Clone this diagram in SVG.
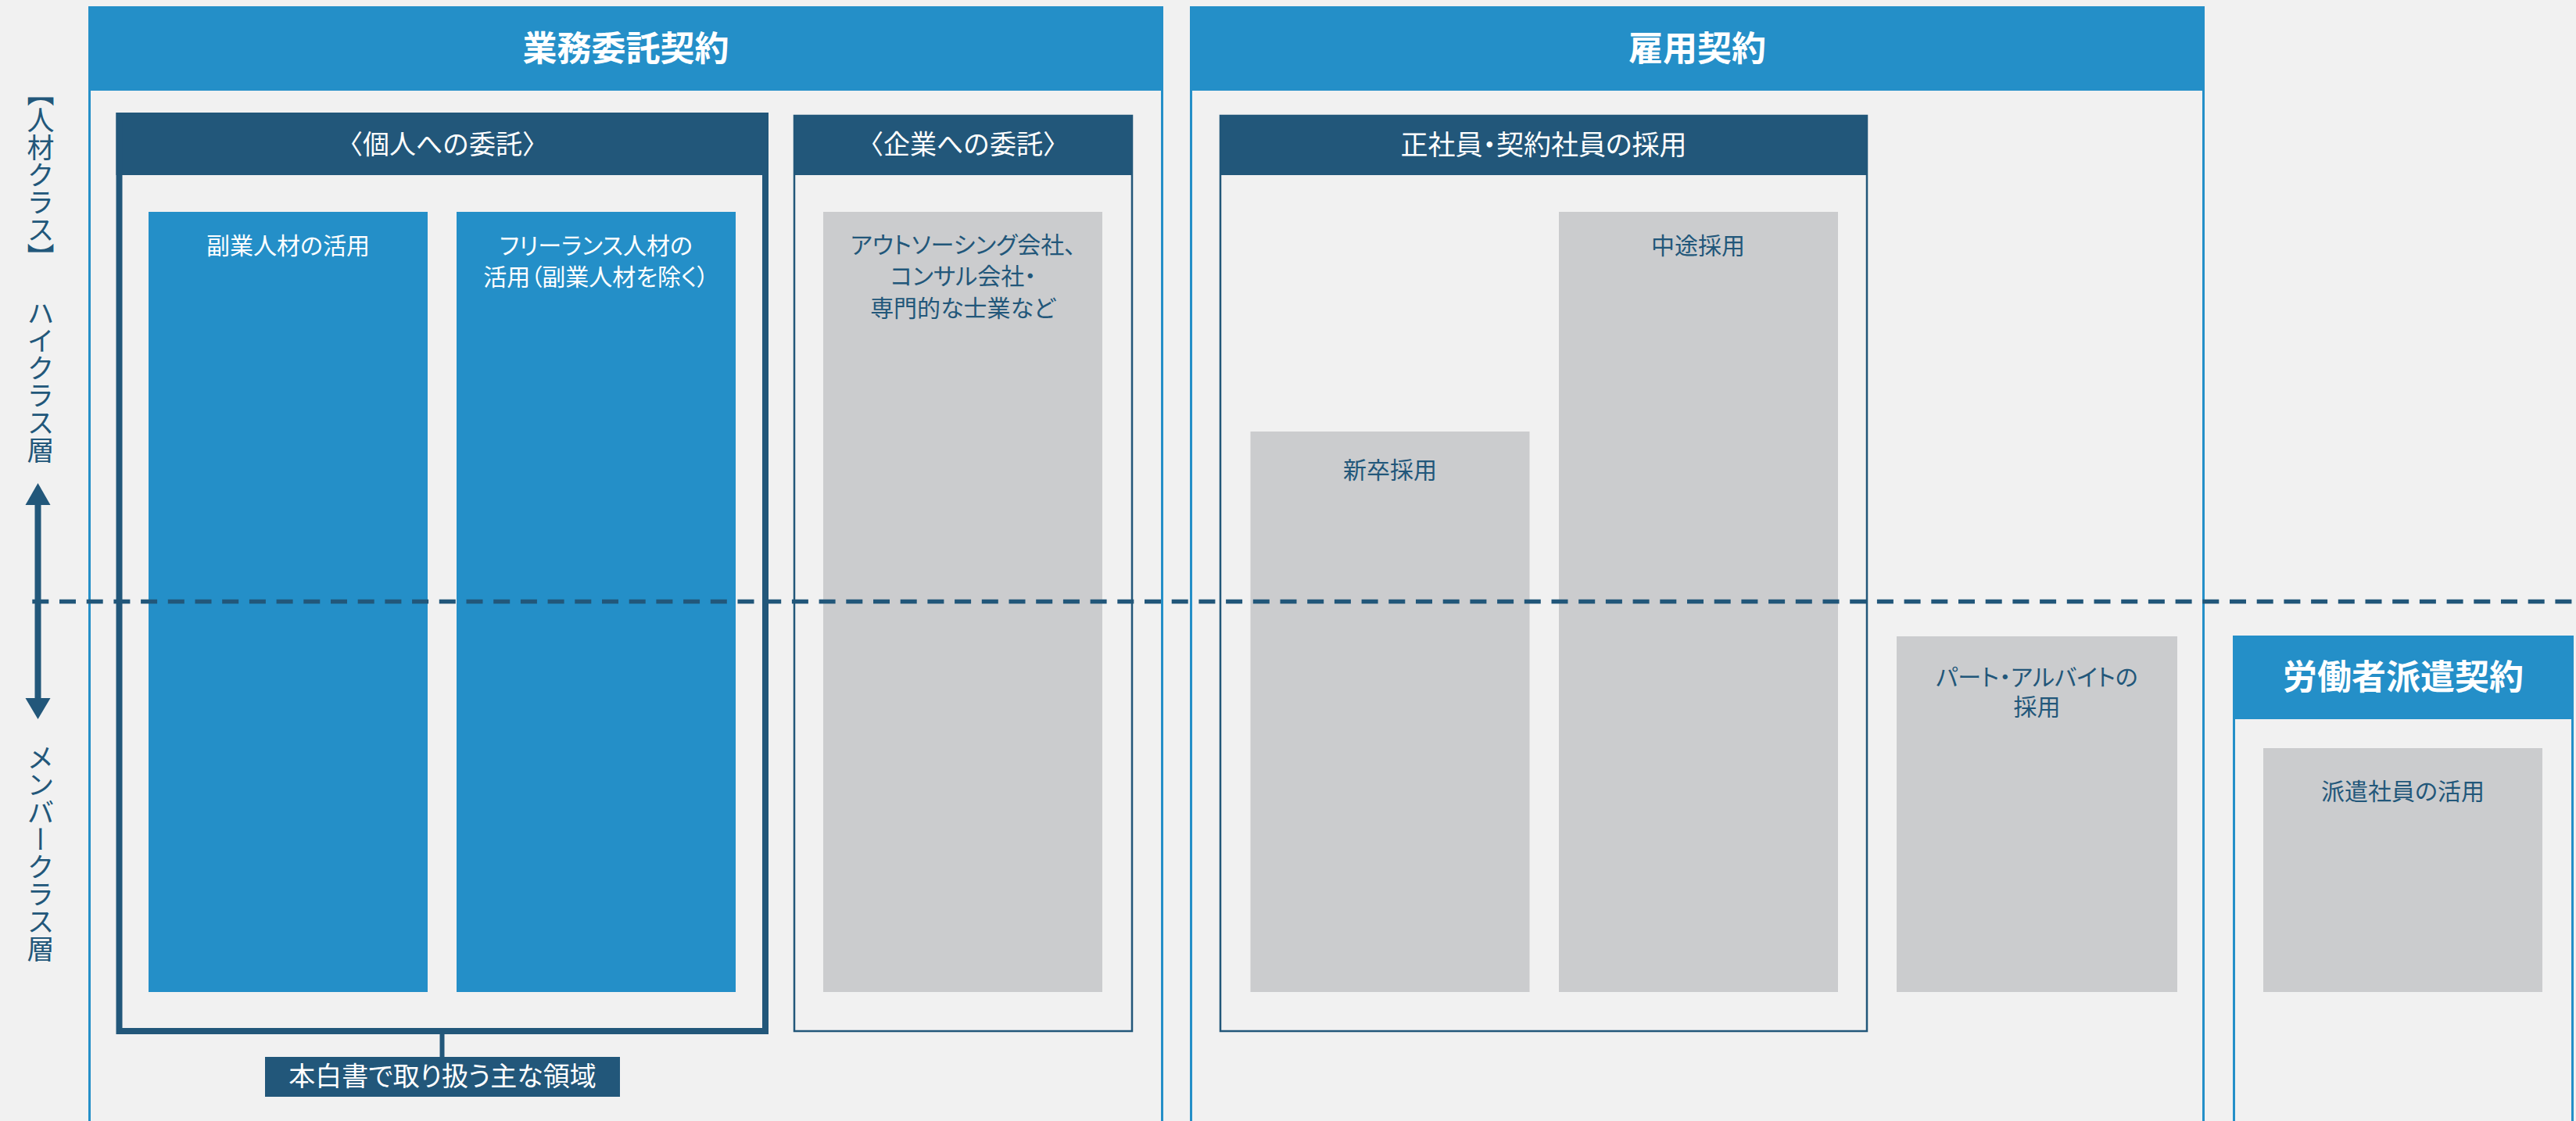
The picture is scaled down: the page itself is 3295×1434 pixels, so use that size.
<svg xmlns="http://www.w3.org/2000/svg" width="3295" height="1434" viewBox="0 0 3295 1434">
<style>
text{font-family:"Liberation Sans","Noto Sans CJK JP",sans-serif;dominant-baseline:central;text-anchor:middle}
.title{font-size:44px;font-weight:700;fill:#ffffff}
.head{font-size:34px;fill:#ffffff}
.headp{font-size:35px;fill:#ffffff;font-feature-settings:"palt"}
.labelt{font-size:34px;fill:#ffffff;font-feature-settings:"palt"}
.wt{font-size:30px;fill:#ffffff;font-feature-settings:"palt"}
.nt{font-size:30px;fill:#22577a;font-feature-settings:"palt"}
.vt{font-size:35px;fill:#22577a;writing-mode:vertical-rl}
.bframe{fill:#f1f1f1;stroke:#248fc8;stroke-width:3}
.bhead{fill:#248fc8}
.nhead{fill:#22577a}
.nframe{fill:none;stroke:#22577a;stroke-width:2.5}
.blue{fill:#248fc8}
.gray{fill:#cbccce}
</style>
<rect x="0" y="0" width="3295" height="1434" fill="#f1f1f1"/>

<g id="legend">
<text class="vt" x="49" y="224">【人材クラス】</text>
<text class="vt" x="49" y="488">ハイクラス層</text>
<text class="vt" x="49" y="1091">メンバークラス層</text>
</g>

<g id="gyomu-itaku">
<rect class="bframe" x="114.5" y="9.5" width="1372" height="1500"/>
<rect class="bhead" x="113" y="8" width="1375" height="108"/>
<text class="title" x="800.5" y="62">業務委託契約</text>
</g>

<g id="koyo">
<rect class="bframe" x="1523.5" y="9.5" width="1295" height="1500"/>
<rect class="bhead" x="1522" y="8" width="1298" height="108"/>
<text class="title" x="2171" y="62">雇用契約</text>
</g>

<g id="haken">
<rect class="bframe" x="2857.5" y="814.5" width="433" height="700"/>
<rect class="bhead" x="2856" y="813" width="436" height="107"/>
<text class="title" x="3074" y="866">労働者派遣契約</text>
</g>

<g id="kojin">
<rect class="nhead" x="148.5" y="144" width="834.5" height="80"/>
<rect x="152.5" y="148" width="826.5" height="1171" fill="none" stroke="#22577a" stroke-width="8"/>
<text class="head" x="566" y="185">〈個人への委託〉</text>
</g>

<g id="kigyo">
<rect class="nhead" x="1015" y="147" width="434" height="77"/>
<rect class="nframe" x="1016" y="148" width="432" height="1171"/>
<text class="head" x="1232" y="185">〈企業への委託〉</text>
</g>

<g id="seishain">
<rect class="nhead" x="1560" y="147" width="829" height="77"/>
<rect class="nframe" x="1561" y="148" width="827" height="1171"/>
<text class="headp" x="1974.5" y="185">正社員・契約社員の採用</text>
</g>

<g id="fukugyo">
<rect class="blue" x="190" y="271" width="357" height="998"/>
<text class="wt" x="368.5" y="314">副業人材の活用</text>
</g>

<g id="freelance">
<rect class="blue" x="584" y="271" width="357" height="998"/>
<text class="wt" x="762.5" y="314">フリーランス人材の</text>
<text class="wt" x="762.5" y="354">活用（副業人材を除く）</text>
</g>

<g id="outsourcing">
<rect class="gray" x="1053" y="271" width="357" height="998"/>
<text class="nt" x="1232" y="313">アウトソーシング会社、</text>
<text class="nt" x="1232" y="353">コンサル会社・</text>
<text class="nt" x="1231.5" y="394">専門的な士業など</text>
</g>

<g id="shinsotsu">
<rect class="gray" x="1599.5" y="552" width="357" height="717"/>
<text class="nt" x="1778" y="601">新卒採用</text>
</g>

<g id="chuto">
<rect class="gray" x="1994" y="271" width="357" height="998"/>
<text class="nt" x="2172" y="314.5">中途採用</text>
</g>

<g id="part">
<rect class="gray" x="2426" y="814" width="359" height="455"/>
<text class="nt" x="2605.5" y="866">パート・アルバイトの</text>
<text class="nt" x="2605.5" y="904">採用</text>
</g>

<g id="hakenshain">
<rect class="gray" x="2895" y="957" width="357" height="312"/>
<text class="nt" x="3073.5" y="1012.5">派遣社員の活用</text>
</g>

<g id="label">
<rect class="nhead" x="339" y="1352" width="454" height="51"/>
<text class="labelt" x="566" y="1377">本白書で取り扱う主な領域</text>
</g>

<g id="connectors">
<line x1="41.3" y1="769.5" x2="3292" y2="769.5" stroke="#22577a" stroke-width="5.5" stroke-dasharray="21 13.7"/>
<line x1="48.5" y1="640" x2="48.5" y2="898" stroke="#22577a" stroke-width="8"/>
<polygon points="48.5,618 32.5,646 64.5,646" fill="#22577a"/>
<polygon points="48.5,920 32.5,893 64.5,893" fill="#22577a"/>
<line x1="565.5" y1="1323" x2="565.5" y2="1352" stroke="#22577a" stroke-width="6"/>
</g>
</svg>
